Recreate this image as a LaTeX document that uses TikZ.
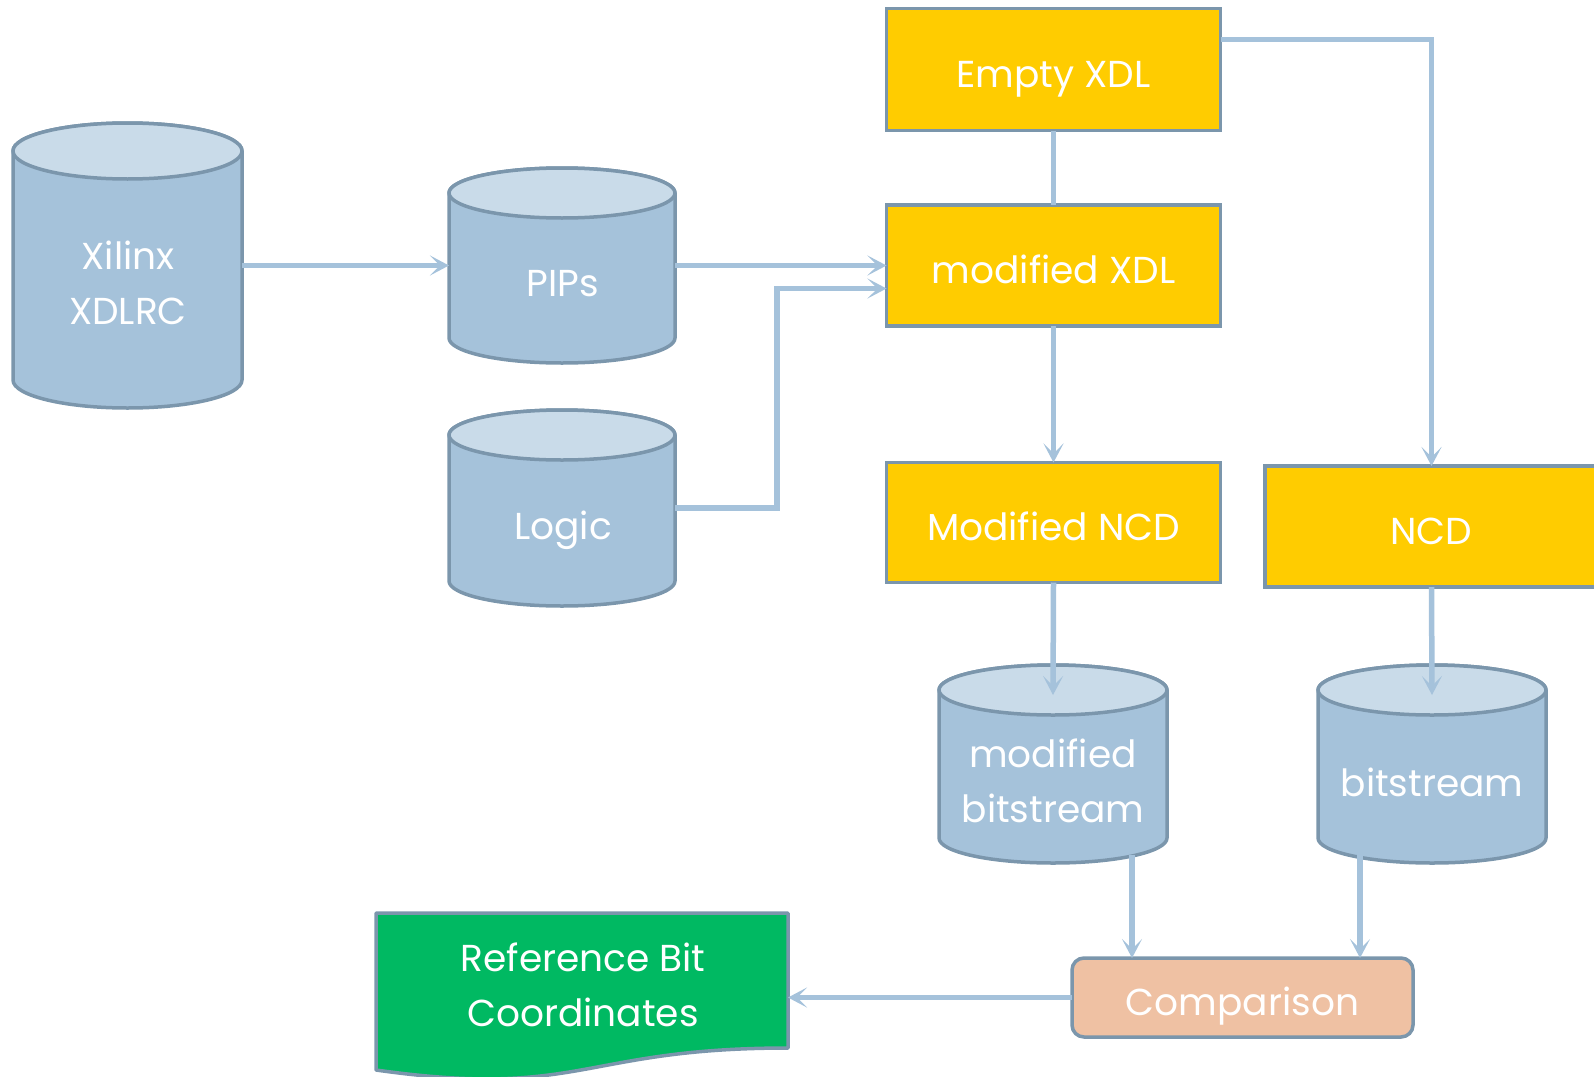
\documentclass[tikz,border=0pt]{standalone}
\usepackage{fontspec}
\setmainfont{Poppins}
\usetikzlibrary{arrows.meta,calc}
\definecolor{cylbody}{HTML}{A5C2DA}
\definecolor{cyltop}{HTML}{C9DBE9}
\definecolor{edgec}{HTML}{7B96AC}
\definecolor{connc}{HTML}{A5C2DB}
\definecolor{yel}{HTML}{FFCC00}
\definecolor{grn}{HTML}{00B962}
\definecolor{peach}{HTML}{EFC1A3}
\tikzset{
  cylline/.style={draw=edgec, line width=3.5pt, line join=round},
  cylnode/.style={rectangle, inner sep=0pt, outer sep=0pt},
  lbl/.style={text=white, align=center, font=\fontsize{37.5}{55}\selectfont, inner sep=0pt},
  ybox/.style={rectangle, draw=edgec, fill=yel, line width=3.5pt, inner sep=0pt, outer sep=0pt,
    text=white, font=\fontsize{37.5}{55}\selectfont, text height=35pt, text depth=0pt},
  conn/.style={draw=connc, line width=5.5pt},
  arr/.style={conn, -{Stealth[length=19pt,width=20pt,inset=10pt]}},
}
\newcommand\dbcyl[6]{%
  \path[cylline, fill=cylbody] (#2,#3+#6) -- (#2,#5-#6)
    arc[start angle=180,end angle=360,x radius={(#4-#2)/2*1pt},y radius={#6*1pt}]
    -- (#4,#3+#6)
    arc[start angle=0,end angle=180,x radius={(#4-#2)/2*1pt},y radius={#6*1pt}] -- cycle;
  \path[cylline, fill=cyltop] ({(#2+#4)/2},#3+#6) ellipse[x radius={(#4-#2)/2*1pt},y radius={#6*1pt}];
  \node[cylnode, minimum width={(#4-#2)*1pt}, minimum height={(#5-#3)*1pt}] (#1) at ({(#2+#4)/2},{(#3+#5)/2}) {};
}
\begin{document}
\begin{tikzpicture}[x=1pt,y=-1pt]
\useasboundingbox (0,0) rectangle (1594,1076);

% cylinders
\dbcyl{xil}{13}{123}{242}{408}{28}
\dbcyl{pips}{449}{168}{675}{363}{25}
\dbcyl{logic}{449}{410}{675}{606}{25}
\dbcyl{mbit}{939}{665}{1167}{863}{25}
\dbcyl{bit}{1318}{665}{1546}{863}{25}

\node[lbl] (xilt) at (128,283) {Xilinx\\XDLRC};
\node[lbl] (pipst) at (563,284) {PIPs};
\node[lbl] (logict) at (563,530) {Logic};
\node[lbl] (mbitt) at (1053,781) {modified\\bitstream};
\node[lbl] (bitt) at (1432,782) {bitstream};

% yellow boxes
\node[ybox, minimum width=334pt, minimum height=122pt] (exdl) at (1053.5,69.5) {Empty XDL};
\node[ybox, minimum width=334pt, minimum height=121pt] (mxdl) at (1053.5,265.5) {modified XDL};
\node[ybox, minimum width=334pt, minimum height=120pt] (mncd) at (1053.5,522.5) {Modified NCD};
\node[ybox, minimum width=333pt, minimum height=121pt] (ncd) at (1431.5,526.5) {NCD};

% comparison
\node[rectangle, rounded corners=12pt, draw=edgec, fill=peach, line width=3.5pt,
  minimum width=341pt, minimum height=79pt, inner sep=0pt, outer sep=0pt,
  text=white, font=\fontsize{37.5}{55}\selectfont, text height=35pt, text depth=0pt] (comp) at (1242.5,997.5) {Comparison};

% document shape
\path[draw=edgec, fill=grn, line width=3.5pt, line join=round]
  (376,913) -- (788,913) -- (788,1048)
  .. controls (581.5,1048) and (581.5,1099) .. (376,1070) -- cycle;
\node[cylnode, minimum width=412pt, minimum height=160pt] (ref) at (582,993) {};
\node[lbl] (reft) at (583,985) {Reference Bit\\Coordinates};

% connectors
\draw[arr] (xil.east |- pips.west) -- (pips.west);
\draw[arr] (pips.east) -- (pips.east -| mxdl.west);
\coordinate (lgin) at ($(mxdl.west)+(0,23)$);
\draw[arr] (logic.east) -- (777,508) |- (lgin);
\draw[conn] (exdl.south) -- (mxdl.north);
\draw[arr] (mxdl.south) -- (mncd.north);
\coordinate (exo) at ($(exdl.east)+(0,-30)$);
\draw[arr] (exo) -| (ncd.north);
\draw[arr] (mncd.south) -- ($(mbit.north)+(0,30)$);
\draw[arr] (ncd.south) -- ($(bit.north)+(0,30)$);
\coordinate (mbo) at ($(mbit.south)+(79,-8)$);
\draw[arr] (mbo) -- (mbo |- comp.north);
\coordinate (bo) at ($(bit.south)+(-72,-8)$);
\draw[arr] (bo) -- (bo |- comp.north);
\draw[arr] (comp.west) -- (comp.west -| ref.east);
\end{tikzpicture}
\end{document}
